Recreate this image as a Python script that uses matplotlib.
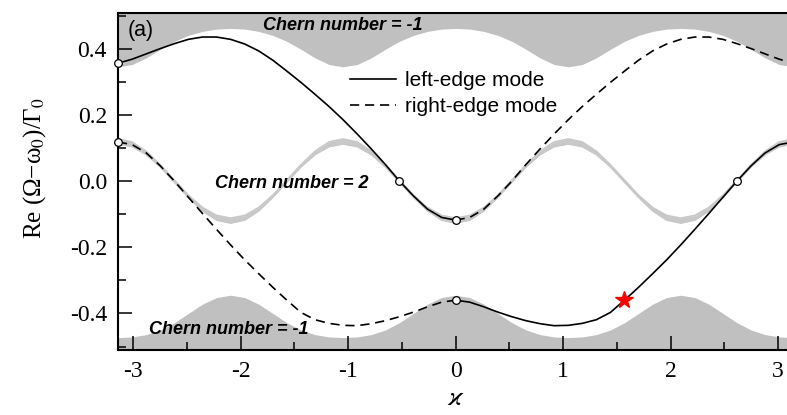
import numpy as np
import matplotlib
matplotlib.use('Agg')
import matplotlib.pyplot as plt
from matplotlib.ticker import MultipleLocator, FormatStrFormatter

# wave number grid: 49 samples across the zone, 25 across each half
kappa = np.linspace(-np.pi, np.pi, 49)
kappa_left = kappa[:25]
kappa_right = kappa[24:]

# upper bulk band (Chern -1): lower boundary of the gray region
top_edge = [0.345, 0.352, 0.372, 0.398, 0.422, 0.440, 0.452, 0.459, 0.461,
            0.459, 0.452, 0.440, 0.422, 0.398, 0.372, 0.352,
            0.345, 0.352, 0.372, 0.398, 0.422, 0.440, 0.452, 0.459, 0.461,
            0.459, 0.452, 0.440, 0.422, 0.398, 0.372, 0.352,
            0.345, 0.352, 0.372, 0.398, 0.422, 0.440, 0.452, 0.459, 0.461,
            0.459, 0.452, 0.440, 0.422, 0.398, 0.372, 0.352, 0.345]

# lower bulk band (Chern -1): upper boundary of the gray region
bottom_edge = [-0.473, -0.471, -0.464, -0.450, -0.428, -0.400, -0.372, -0.352, -0.345,
               -0.352, -0.372, -0.400, -0.428, -0.450, -0.464, -0.471,
               -0.473, -0.471, -0.464, -0.450, -0.428, -0.400, -0.372, -0.352, -0.345,
               -0.352, -0.372, -0.400, -0.428, -0.450, -0.464, -0.471,
               -0.473, -0.471, -0.464, -0.450, -0.428, -0.400, -0.372, -0.352, -0.345,
               -0.352, -0.372, -0.400, -0.428, -0.450, -0.464, -0.471, -0.473]

# middle bulk band (Chern 2)
mid_upper = [0.127, 0.118, 0.090, 0.049, 0.003, -0.043, -0.080, -0.104, -0.112,
             -0.104, -0.080, -0.043, 0.003, 0.049, 0.090, 0.118,
             0.127, 0.118, 0.090, 0.049, 0.003, -0.043, -0.080, -0.104, -0.112,
             -0.104, -0.080, -0.043, 0.003, 0.049, 0.090, 0.118,
             0.127, 0.118, 0.090, 0.049, 0.003, -0.043, -0.080, -0.104, -0.112,
             -0.104, -0.080, -0.043, 0.003, 0.049, 0.090, 0.118, 0.127]
mid_lower = [0.112, 0.104, 0.080, 0.043, -0.003, -0.049, -0.090, -0.118, -0.127,
             -0.118, -0.090, -0.049, -0.003, 0.043, 0.080, 0.104,
             0.112, 0.104, 0.080, 0.043, -0.003, -0.049, -0.090, -0.118, -0.127,
             -0.118, -0.090, -0.049, -0.003, 0.043, 0.080, 0.104,
             0.112, 0.104, 0.080, 0.043, -0.003, -0.049, -0.090, -0.118, -0.127,
             -0.118, -0.090, -0.049, -0.003, 0.043, 0.080, 0.104, 0.112]

# left-edge mode, branch on kappa in [-pi, 0]
left_a = [0.356, 0.368, 0.384, 0.400, 0.415, 0.428, 0.435, 0.435, 0.428,
          0.414, 0.393, 0.365, 0.332, 0.298, 0.262, 0.225, 0.185,
          0.142, 0.097, 0.050, 0.000, -0.045, -0.085, -0.110, -0.118]
# left-edge mode, branch on kappa in [0, pi]
left_b = [-0.360, -0.366, -0.380, -0.396, -0.410, -0.422, -0.431, -0.437, -0.436,
          -0.430, -0.419, -0.397, -0.360, -0.321, -0.280, -0.238, -0.193,
          -0.146, -0.098, -0.049, 0.000, 0.046, 0.085, 0.110, 0.118]
# right-edge mode is the mirror image in kappa
right_a = left_b[::-1]
right_b = left_a[::-1]

# sample indices carrying open circles, and the starred one
circle_idx = [0, 20, 24]
star_idx = 12

plt.rcParams['font.family'] = ['Liberation Serif', 'DejaVu Serif']
plt.rcParams['mathtext.fontset'] = 'stix'

fig = plt.figure(figsize=(7.87, 4.15), dpi=100)
ax = fig.add_axes([0.150, 0.157, 0.858, 0.812])

band_gray = '#c0c0c0'
mid_gray = '#c8c8c8'
ax.fill_between(kappa, top_edge, 0.7, color=band_gray, lw=0, zorder=1)
ax.fill_between(kappa, -0.7, bottom_edge, color=band_gray, lw=0, zorder=1)
ax.fill_between(kappa, mid_lower, mid_upper, color=mid_gray, lw=0, zorder=1)
ax.plot(kappa, mid_upper, color=mid_gray, lw=1.2, solid_joinstyle='round', zorder=1)
ax.plot(kappa, mid_lower, color=mid_gray, lw=1.2, solid_joinstyle='round', zorder=1)

lw = 1.2
dash = (0, (5.5, 3.5))
ax.plot(kappa_left, left_a, color='black', lw=lw, zorder=3, label='left-edge mode')
ax.plot(kappa_right, left_b, color='black', lw=lw, zorder=3)
ax.plot(kappa_left, right_a, color='black', lw=lw, ls=dash, zorder=3,
        label='right-edge mode')
ax.plot(kappa_right, right_b, color='black', lw=lw, ls=dash, zorder=3)

for xs, ys in [(kappa_left, left_a), (kappa_right, left_b)]:
    ax.plot(xs[circle_idx], np.array(ys)[circle_idx], 'o', ms=5.5,
            mfc='white', mec='black', mew=0.9, zorder=4, clip_on=False)
ax.plot(kappa_left[0], right_a[0], 'o', ms=5.5, mfc='white', mec='black',
        mew=0.9, zorder=4, clip_on=False)
ax.plot(kappa_right[star_idx], left_b[star_idx], '*', ms=13, color='red',
        mec='red', zorder=5)

ax.set_xlim(-np.pi, np.pi)
ax.set_ylim(-0.51, 0.508)
ax.xaxis.set_major_locator(MultipleLocator(1))
ax.xaxis.set_minor_locator(MultipleLocator(0.5))
ax.yaxis.set_major_locator(MultipleLocator(0.2))
ax.yaxis.set_minor_locator(MultipleLocator(0.1))
ax.xaxis.set_major_formatter(FormatStrFormatter('%d'))
ax.yaxis.set_major_formatter(FormatStrFormatter('%.1f'))
ax.tick_params(which='both', direction='in', top=False, right=False,
               labelsize=17, width=1.1)
ax.tick_params(which='major', length=10)
ax.tick_params(which='minor', length=6)
ax.tick_params(axis='x', pad=8)
ax.tick_params(axis='y', pad=8)
for s in ax.spines.values():
    s.set_linewidth(1.5)
ax.spines['right'].set_visible(False)

ax.set_xlabel(r'$\varkappa$', fontsize=20, labelpad=3)
ax.set_ylabel('Re (Ω−ω$_0$)/Γ$_0$', fontsize=18)
ax.yaxis.set_label_coords(-0.104, 0.54)

sans = ['Liberation Sans', 'DejaVu Sans']
ax.text(-3.05, 0.456, '(a)', family=sans, fontsize=15.5, va='center', ha='left', zorder=6)
chern = dict(family=sans, fontsize=13, fontweight='bold', fontstyle='italic',
             va='center', ha='left', zorder=6)
ax.text(-1.795, 0.471, 'Chern number = -1', **chern)
ax.text(-2.24, -0.006, 'Chern number = 2', **chern)
ax.text(-2.85, -0.450, 'Chern number = -1', **chern)

ax.legend(loc='upper left', bbox_to_anchor=(350 / 787, 1 - 71 / 415),
          bbox_transform=fig.transFigure, frameon=False,
          prop={'family': sans, 'size': 15}, handlelength=2.2,
          handletextpad=0.45, labelspacing=0.35, borderpad=0, borderaxespad=0)

fig.savefig('out.png', dpi=100)
